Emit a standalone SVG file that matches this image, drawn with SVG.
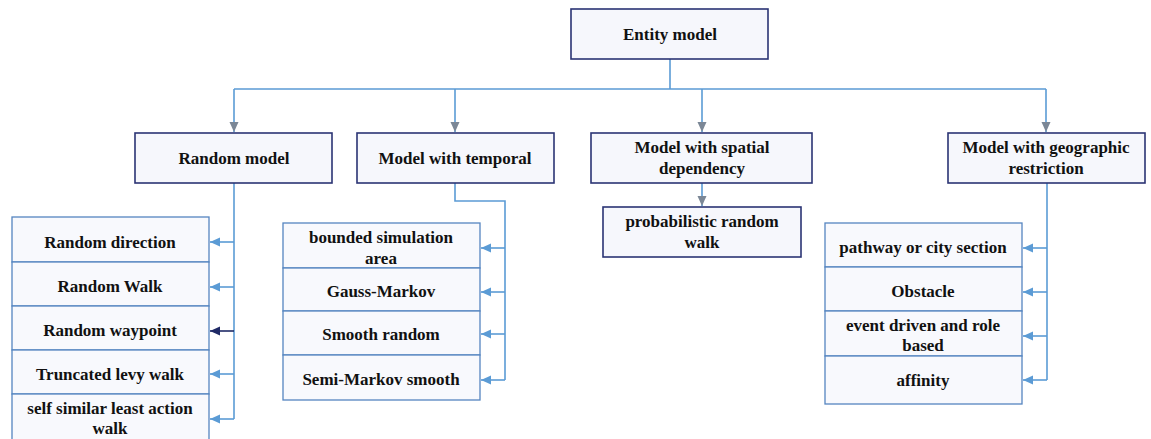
<svg xmlns="http://www.w3.org/2000/svg" width="1151" height="439" viewBox="0 0 1151 439">
<style>
.main{fill:#f6f7fc;stroke:#2b3474;stroke-width:1.6}
.item{fill:#f8f9fd;stroke:#5585c0;stroke-width:1.3}
text{font-family:"Liberation Serif","Times New Roman",serif;font-weight:bold;font-size:17px;fill:#111;text-anchor:middle}
.ln{fill:none;stroke:#5b9bd5;stroke-width:1.6}
</style>
<defs>
<marker id="ag" markerUnits="userSpaceOnUse" markerWidth="11" markerHeight="11" refX="10" refY="5.5" orient="auto"><path d="M0,1 L10,5.5 L0,10 Z" fill="#7b8796"/></marker>
<marker id="ab" markerUnits="userSpaceOnUse" markerWidth="11" markerHeight="11" refX="10" refY="5.5" orient="auto"><path d="M0,1 L10,5.5 L0,10 Z" fill="#5b9bd5"/></marker>
<marker id="an" markerUnits="userSpaceOnUse" markerWidth="11" markerHeight="11" refX="10" refY="5.5" orient="auto"><path d="M0,1 L10,5.5 L0,10 Z" fill="#1f2a66"/></marker>
</defs>
<rect width="1151" height="439" fill="#fff"/>
<g id="connectors">
<path class="ln" d="M670,59 V89 M234,89 H1046"/>
<path class="ln" d="M234,89 V132" marker-end="url(#ag)"/>
<path class="ln" d="M455,89 V132" marker-end="url(#ag)"/>
<path class="ln" d="M702,89 V132" marker-end="url(#ag)"/>
<path class="ln" d="M1046,89 V132" marker-end="url(#ag)"/>
<path class="ln" d="M234,183 V419"/>
<path class="ln" d="M234,242 H210" marker-end="url(#ab)"/>
<path class="ln" d="M234,287 H210" marker-end="url(#ab)"/>
<path class="ln" d="M234,331 H210" style="stroke:#1f2a66" marker-end="url(#an)"/>
<path class="ln" d="M234,374 H210" marker-end="url(#ab)"/>
<path class="ln" d="M234,419 H210" marker-end="url(#ab)"/>
<path class="ln" d="M455,183 V201 H505 V380"/>
<path class="ln" d="M505,248 H481" marker-end="url(#ab)"/>
<path class="ln" d="M505,292 H481" marker-end="url(#ab)"/>
<path class="ln" d="M505,334 H481" marker-end="url(#ab)"/>
<path class="ln" d="M505,380 H481" marker-end="url(#ab)"/>
<path class="ln" d="M702,183 V206" marker-end="url(#ag)"/>
<path class="ln" d="M1047,183 V380"/>
<path class="ln" d="M1047,248 H1023" marker-end="url(#ab)"/>
<path class="ln" d="M1047,292 H1023" marker-end="url(#ab)"/>
<path class="ln" d="M1047,336 H1023" marker-end="url(#ab)"/>
<path class="ln" d="M1047,380 H1023" marker-end="url(#ab)"/>
</g>
<g id="entity-model"><rect class="main" x="571" y="9" width="197" height="50"/><text x="670" y="40">Entity model</text></g>
<g id="random-model"><rect class="main" x="135" y="133" width="197" height="50"/><text x="234" y="164">Random model</text></g>
<g id="temporal-model"><rect class="main" x="357" y="133" width="197" height="50"/><text x="455" y="164">Model with temporal</text></g>
<g id="spatial-model"><rect class="main" x="591" y="133" width="221" height="50"/><text x="702" y="153">Model with spatial</text><text x="702" y="174">dependency</text></g>
<g id="geographic-model"><rect class="main" x="948" y="133" width="197" height="50"/><text x="1046" y="153">Model with geographic</text><text x="1046" y="174">restriction</text></g>
<g id="random-direction"><rect class="item" x="12" y="217" width="197" height="45"/><text x="110" y="248">Random direction</text></g>
<g id="random-walk"><rect class="item" x="12" y="262" width="197" height="44"/><text x="110" y="292">Random Walk</text></g>
<g id="random-waypoint"><rect class="item" x="12" y="306" width="197" height="44"/><text x="110" y="336">Random waypoint</text></g>
<g id="truncated-levy-walk"><rect class="item" x="12" y="350" width="197" height="44"/><text x="110" y="380">Truncated levy walk</text></g>
<g id="slaw"><rect class="item" x="12" y="394" width="197" height="50"/><text x="110" y="414">self similar least action</text><text x="110" y="434">walk</text></g>
<g id="bounded-simulation-area"><rect class="item" x="283" y="223" width="197" height="45"/><text x="381" y="243">bounded simulation</text><text x="381" y="264">area</text></g>
<g id="gauss-markov"><rect class="item" x="283" y="268" width="197" height="43"/><text x="381" y="297">Gauss-Markov</text></g>
<g id="smooth-random"><rect class="item" x="283" y="311" width="197" height="44"/><text x="381" y="340">Smooth random</text></g>
<g id="semi-markov-smooth"><rect class="item" x="283" y="355" width="197" height="45"/><text x="381" y="385">Semi-Markov smooth</text></g>
<g id="probabilistic-random-walk"><rect class="main" x="603" y="207" width="198" height="50"/><text x="702" y="227">probabilistic random</text><text x="702" y="248">walk</text></g>
<g id="pathway"><rect class="item" x="825" y="223" width="197" height="44"/><text x="923" y="253">pathway or city section</text></g>
<g id="obstacle"><rect class="item" x="825" y="267" width="197" height="44"/><text x="923" y="297">Obstacle</text></g>
<g id="event-driven"><rect class="item" x="825" y="311" width="197" height="45"/><text x="923" y="331">event driven and role</text><text x="923" y="351">based</text></g>
<g id="affinity"><rect class="item" x="825" y="356" width="197" height="48"/><text x="923" y="386">affinity</text></g>
</svg>
